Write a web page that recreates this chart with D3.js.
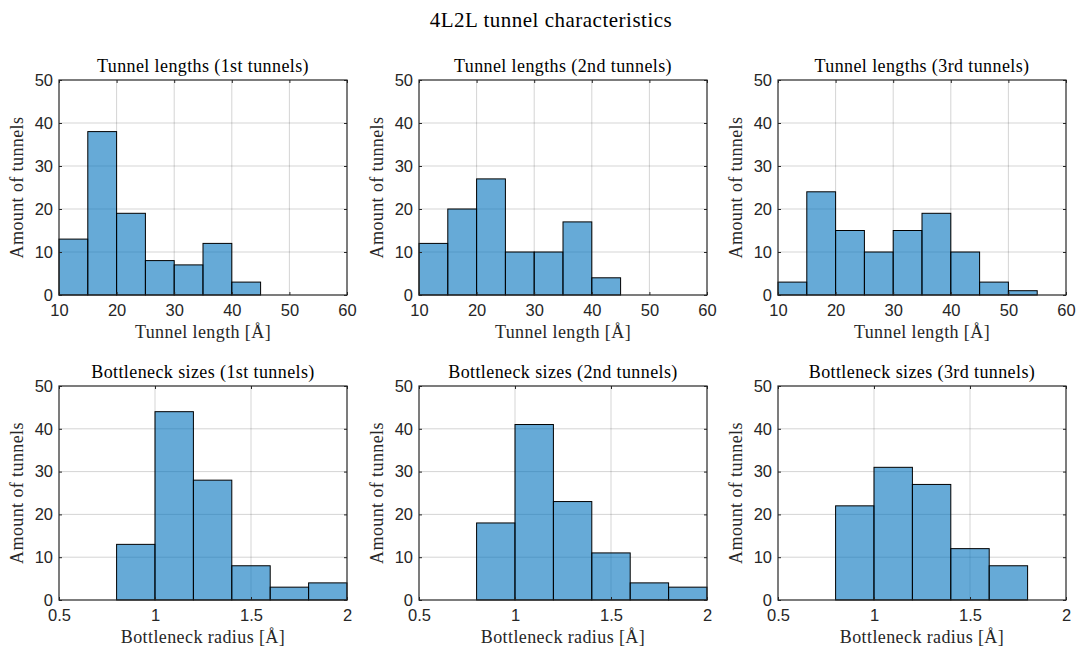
<!DOCTYPE html>
<html>
<head>
<meta charset="utf-8">
<script src="https://cdn.jsdelivr.net/npm/d3@7"></script>
<style>
  html, body { margin: 0; padding: 0; background: #fff; }
  svg { display: block; }
</style>
</head>
<body>
<svg id="chart" width="1079" height="648"></svg>
<script>
// ---------------- DATA ----------------
const figureTitle = "4L2L tunnel characteristics";

const lengthTitles = ["Tunnel lengths (1st tunnels)", "Tunnel lengths (2nd tunnels)", "Tunnel lengths (3rd tunnels)"];
const bottleneckTitles = ["Bottleneck sizes (1st tunnels)", "Bottleneck sizes (2nd tunnels)", "Bottleneck sizes (3rd tunnels)"];

const lengthBinStart = 10;
const lengthBinWidth = 5;
const length1st = [13, 38, 19, 8, 7, 12, 3];
const length2nd = [12, 20, 27, 10, 10, 17, 4];
const length3rd = [3, 24, 15, 10, 15, 19, 10, 3, 1];

const bottleneckBinStart = 0.8;
const bottleneckBinWidth = 0.2;
const bottleneck1st = [13, 44, 28, 8, 3, 4];
const bottleneck2nd = [18, 41, 23, 11, 4, 3];
const bottleneck3rd = [22, 31, 27, 12, 8];

const lengthTicks = [10, 20, 30, 40, 50, 60];
const bottleneckTicks = [0.5, 1, 1.5, 2];
const countTicks = [0, 10, 20, 30, 40, 50];

const lengthXLabel = "Tunnel length [Å]";
const bottleneckXLabel = "Bottleneck radius [Å]";
const yLabel = "Amount of tunnels";

// ---------------- LAYOUT ----------------
const svg = d3.select("#chart");
const serif = "'Liberation Serif', 'DejaVu Serif', serif";
const sans = "'Liberation Sans', 'DejaVu Sans', sans-serif";
const axisColor = "#262626";
const barFill = "#0072BD";

const colX = [59, 419, 778];
const plotW = 288;
const rows = [
  { top: 80, bottom: 295 },
  { top: 386, bottom: 600 }
];

svg.append("text")
  .attr("x", 551).attr("y", 27)
  .attr("text-anchor", "middle")
  .attr("font-family", serif)
  .attr("font-size", 21)
  .attr("letter-spacing", 0.5)
  .attr("fill", "#000")
  .text(figureTitle);

function histogram(col, row, counts, binStart, binWidth, domain, ticks, title, xLabel, tickFmt) {
  const left = colX[col];
  const top = rows[row].top;
  const h = rows[row].bottom - top;
  const g = svg.append("g").attr("transform", `translate(${left},${top})`);
  const x = d3.scaleLinear().domain(domain).range([0, plotW]);
  const y = d3.scaleLinear().domain([0, 50]).range([h, 0]);

  // grid
  const grid = g.append("g").attr("class", "grid");
  grid.selectAll("line.gx").data(ticks.slice(1, -1)).join("line")
    .attr("x1", d => x(d)).attr("x2", d => x(d))
    .attr("y1", 0).attr("y2", h)
    .attr("stroke", axisColor).attr("stroke-opacity", 0.2).attr("stroke-width", 1);
  grid.selectAll("line.gy").data(countTicks.slice(1, -1)).join("line")
    .attr("y1", d => y(d)).attr("y2", d => y(d))
    .attr("x1", 0).attr("x2", plotW)
    .attr("stroke", axisColor).attr("stroke-opacity", 0.2).attr("stroke-width", 1);

  // bars
  const bins = counts.map((c, i) => ({ x0: binStart + i * binWidth, x1: binStart + (i + 1) * binWidth, c }));
  g.selectAll("rect.bar").data(bins).join("rect")
    .attr("class", "bar")
    .attr("x", d => x(d.x0))
    .attr("width", d => x(d.x1) - x(d.x0))
    .attr("y", d => y(d.c))
    .attr("height", d => y(0) - y(d.c))
    .attr("fill", barFill).attr("fill-opacity", 0.6)
    .attr("stroke", "#000").attr("stroke-width", 1);

  // axes
  const fmt = tickFmt || (d => d);
  const styleAxis = sel => {
    sel.select(".domain").remove();
    sel.selectAll(".tick line").attr("stroke", axisColor);
    sel.selectAll(".tick text").attr("fill", axisColor).attr("font-family", sans).attr("font-size", 16.5);
  };
  g.append("g").attr("transform", `translate(0,${h})`)
    .call(d3.axisBottom(x).tickValues(ticks).tickFormat(fmt).tickSize(-3).tickPadding(9))
    .call(styleAxis);
  g.append("g")
    .call(d3.axisTop(x).tickValues(ticks).tickFormat("").tickSize(-3))
    .call(styleAxis);
  g.append("g")
    .call(d3.axisLeft(y).tickValues(countTicks).tickSize(-3).tickPadding(6))
    .call(styleAxis);
  g.append("g").attr("transform", `translate(${plotW},0)`)
    .call(d3.axisRight(y).tickValues(countTicks).tickFormat("").tickSize(-3))
    .call(styleAxis);

  // box
  g.append("rect").attr("x", 0).attr("y", 0).attr("width", plotW).attr("height", h)
    .attr("fill", "none").attr("stroke", axisColor).attr("stroke-width", 1.2);

  // titles / labels
  g.append("text").attr("x", plotW / 2).attr("y", -8.5)
    .attr("text-anchor", "middle").attr("font-family", serif).attr("font-size", 18)
    .attr("letter-spacing", 0.4)
    .attr("fill", "#000").text(title);
  g.append("text").attr("x", plotW / 2).attr("y", h + 43)
    .attr("text-anchor", "middle").attr("font-family", serif).attr("font-size", 18)
    .attr("letter-spacing", 0.4)
    .attr("fill", axisColor).text(xLabel);
  g.append("text")
    .attr("transform", `translate(${-36},${h / 2}) rotate(-90)`)
    .attr("text-anchor", "middle").attr("font-family", serif).attr("font-size", 18)
    .attr("letter-spacing", 0.4)
    .attr("fill", axisColor).text(yLabel);
}

const lengthSeries = [length1st, length2nd, length3rd];
const bottleneckSeries = [bottleneck1st, bottleneck2nd, bottleneck3rd];
const bFmt = d3.format("~g");

lengthSeries.forEach((s, i) =>
  histogram(i, 0, s, lengthBinStart, lengthBinWidth, [10, 60], lengthTicks, lengthTitles[i], lengthXLabel));
bottleneckSeries.forEach((s, i) =>
  histogram(i, 1, s, bottleneckBinStart, bottleneckBinWidth, [0.5, 2], bottleneckTicks, bottleneckTitles[i], bottleneckXLabel, bFmt));
</script>
</body>
</html>
